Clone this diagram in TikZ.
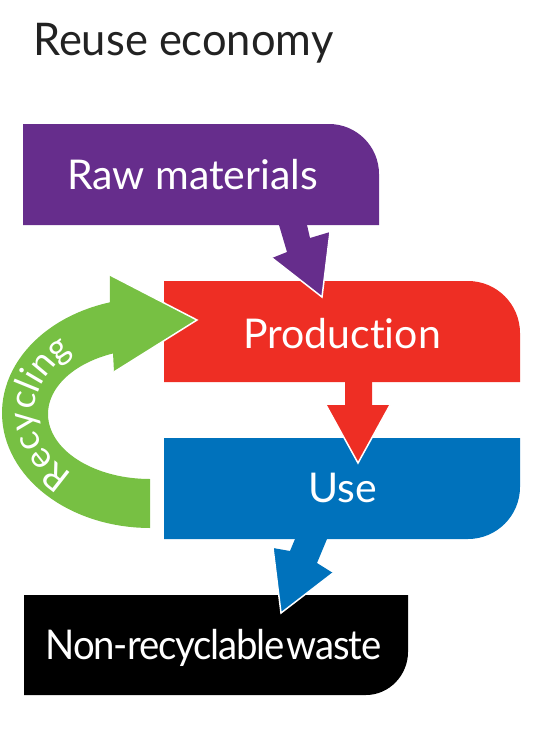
\documentclass[tikz,border=0pt]{standalone}
\usepackage{fontspec}
\setmainfont{Lato}[Ligatures={NoCommon}]
\usetikzlibrary{decorations.text}
\definecolor{cpurple}{RGB}{102,45,140}
\definecolor{cred}{RGB}{238,46,36}
\definecolor{cblue}{RGB}{0,114,188}
\definecolor{cgreen}{RGB}{119,192,67}
\definecolor{ctitle}{RGB}{34,34,34}
\begin{document}
\begin{tikzpicture}[x=1pt,y=-1pt,
  boxlabel/.style={text=white, font=\fontsize{41}{41}\selectfont, inner sep=0pt, anchor=base},
  tipline/.style={draw=white, line width=1.5pt, line join=miter}]
\useasboundingbox (0,0) rectangle (552,742);

% title
\node[anchor=base west, text=ctitle, font=\fontsize{45}{45}\selectfont, inner sep=0pt] (title) at (33,55) {\scalebox{0.965}[1]{Reuse economy}};

% boxes
\fill[cpurple] (23,124) -- (329,124) .. controls (356.6,124) and (379,146.4) .. (379,174) -- (379,225) -- (23,225) -- cycle;
\fill[cred] (164,281) -- (468,281) .. controls (496.7,281) and (520,304.3) .. (520,333) -- (520,382) -- (164,382) -- cycle;
\fill[cblue] (164,438) -- (520,438) -- (520,487) .. controls (520,515.7) and (496.7,539) .. (468,539) -- (164,539) -- cycle;
\fill[black] (24,595) -- (408,595) -- (408,652) .. controls (408,675.2) and (389.2,695) .. (366,695) -- (24,695) -- cycle;

% labels
\node[boxlabel] (raw) at (192.5,189) {Raw materials};
\node[boxlabel] (prod) at (342,348) {Production};
\node[boxlabel] (use) at (343,502) {Use};
\node[boxlabel] (waste) at (213.5,659) {\scalebox{0.935}[1]{\addfontfeature{LetterSpace=-3}Non-recyclable\hspace{2pt}waste}};

% arrows
\fill[cpurple] (279,225) -- (287,252) -- (272,258) -- (322,297) -- (330,232) -- (310,238) -- (307,225) -- cycle;
\draw[tipline] (272,258) -- (322,297) -- (330,232);

\fill[cred] (345,382) -- (345,405) -- (326,405) -- (358,463) -- (390,405) -- (372,405) -- (372,382) -- cycle;
\draw[tipline] (326,405) -- (358,463) -- (390,405);

\fill[cblue] (295,539) -- (290,551) -- (273,548) -- (281,613) -- (333,573) -- (317,563) -- (327,539) -- cycle;
\draw[tipline] (273,548) -- (281,613) -- (333,573);

% recycling arrow
\fill[cgreen] plot[domain=90:254.3,samples=60] ({150+148*cos(\x)},{413+115*sin(\x)}) -- (110,275) -- (197,320) -- (114,372) -- (113,353) -- plot[domain=248.7:90,samples=60] ({150+102*cos(\x)},{414+65*sin(\x)}) -- cycle;
\draw[tipline] (110,275) -- (197,320) -- (114,372);
\path[decorate, decoration={text along path, text align=center,
  text={|\fontsize{36}{36}\selectfont\color{white}|Recycling}}]
  plot[domain=100:260,samples=100] ({150+116*cos(\x)},{413+82*sin(\x)});
\end{tikzpicture}
\end{document}
